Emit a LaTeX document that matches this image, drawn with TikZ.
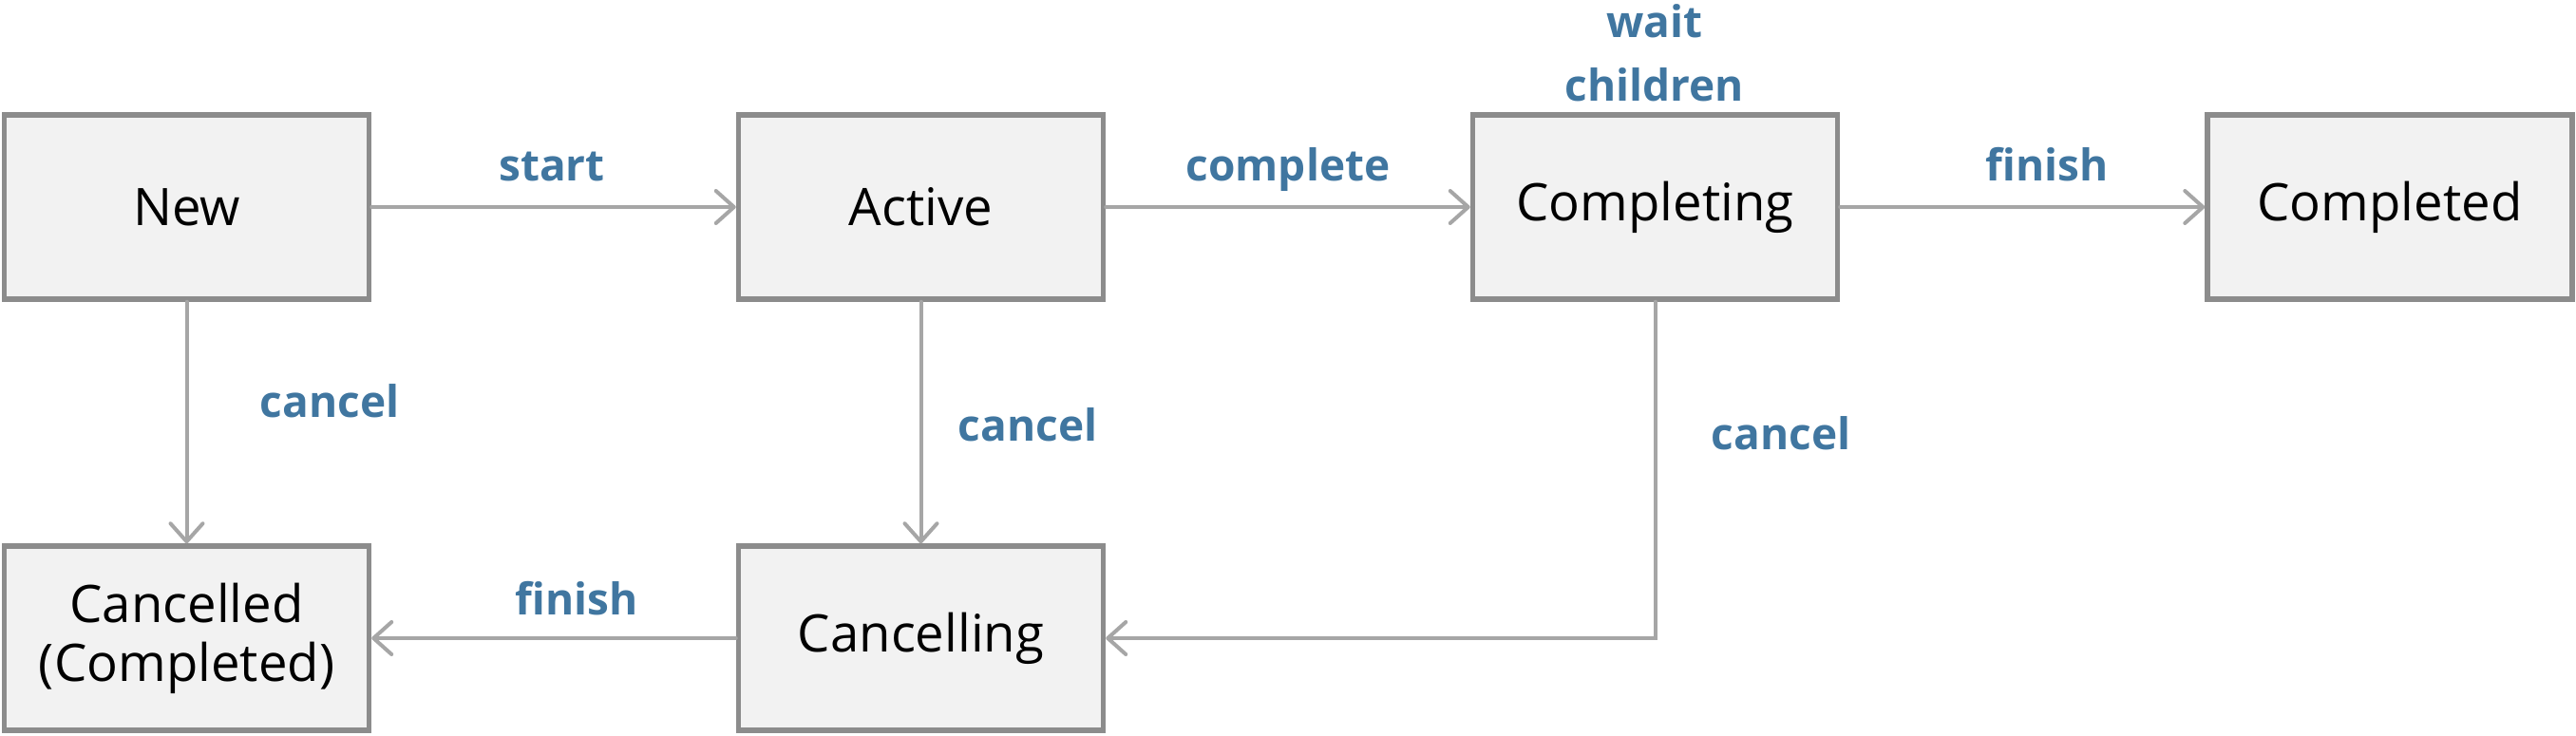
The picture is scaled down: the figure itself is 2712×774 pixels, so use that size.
\documentclass[tikz,border=0pt]{standalone}
\usepackage{fontspec}
\setmainfont{Open Sans}
\usetikzlibrary{arrows.meta}
\definecolor{boxfill}{HTML}{F2F2F2}
\definecolor{boxline}{HTML}{8C8C8C}
\definecolor{conn}{HTML}{A6A6A6}
\definecolor{lbl}{HTML}{4076A0}
\begin{document}
\begin{tikzpicture}[x=1pt,y=-1pt,
  state/.style={draw=boxline, fill=boxfill, line width=5.5pt, minimum width=384pt,
    minimum height=194pt, inner sep=0pt, align=center,
    font=\fontsize{54.5}{62}\selectfont},
  lab/.style={text=lbl, inner sep=0pt, anchor=base, align=center,
    font=\fontsize{46}{66.5}\selectfont\bfseries},
  conn/.style={draw=conn, line width=4pt, line cap=round,
    -{Straight Barb[length=19pt,width=34pt,round]}}]
\useasboundingbox (0,0) rectangle (2712,774);
\node[state] (new) at (196.5,218) {New};
\node[state] (active) at (969.5,218) {Active};
\node[state] (completing) at (1742.5,218) {Completing};
\node[state] (completed) at (2516,218) {Completed};
\node[state] (cancelled) at (196.5,672) {Cancelled\\(Completed)};
\node[state] (cancelling) at (969.5,672) {Cancelling};
\draw[conn] (new) -- (active);
\draw[conn] (active) -- (completing);
\draw[conn] (completing) -- (completed);
\draw[conn] (new) -- (cancelled);
\draw[conn] (active) -- (cancelling);
\draw[conn] (cancelling) -- (cancelled);
\draw[conn] (completing.south) |- (cancelling.east);
\node[lab] (lstart) at (581,190) {start};
\node[lab] (lcomplete) at (1356,190) {complete};
\node[lab] (lfinish1) at (2155,190) {finish};
\node[lab] (lwait) at (1742,106) {wait\\children};
\node[lab] (lcancel1) at (347,439) {cancel};
\node[lab] (lcancel2) at (1082,464) {cancel};
\node[lab] (lcancel3) at (1875,473) {cancel};
\node[lab] (lfinish2) at (607,647.5) {finish};
\end{tikzpicture}
\end{document}
